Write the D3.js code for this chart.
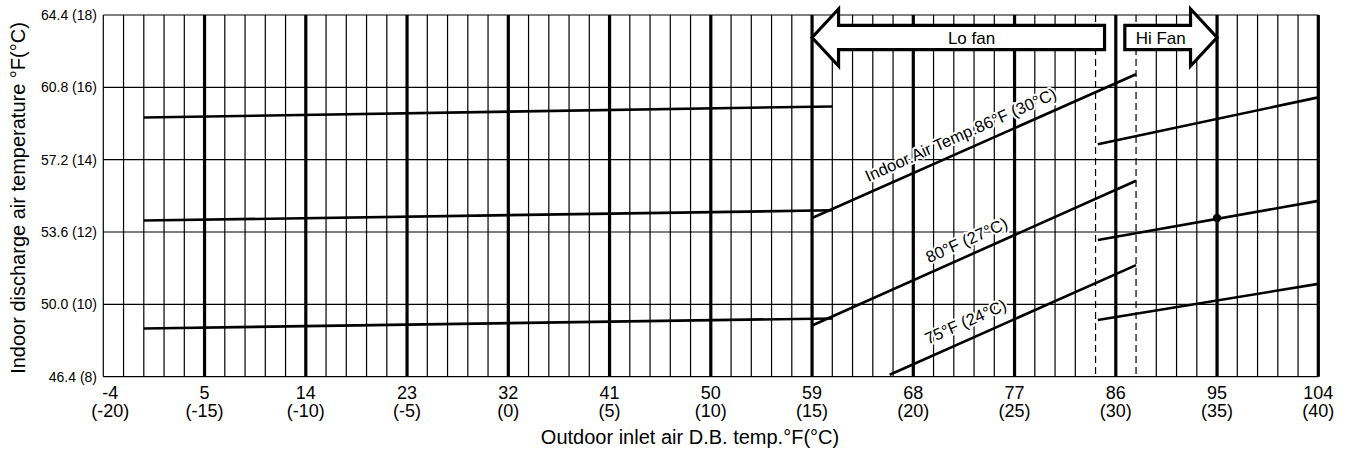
<!DOCTYPE html>
<html>
<head>
<meta charset="utf-8">
<script src="https://cdn.jsdelivr.net/npm/d3@7"></script>
<style>
  body { margin: 0; background: #fff; }
  svg text { font-family: "Liberation Sans", Arial, Helvetica, sans-serif; fill: #000; }
</style>
</head>
<body>
<script>
// tick labels
var xTicksF = [-4, 5, 14, 23, 32, 41, 50, 59, 68, 77, 86, 95, 104];
var xTicksC = [-20, -15, -10, -5, 0, 5, 10, 15, 20, 25, 30, 35, 40];
var yTicksF = ["46.4", "50.0", "53.6", "57.2", "60.8", "64.4"];
var yTicksC = [8, 10, 12, 14, 16, 18];

// Lo fan, low outdoor temp (flat part)
var flatX = [-0.4, 60.8];
var flatTop = [59.3, 59.85];
var flatMid = [54.17, 54.68];
var flatBot = [48.8, 49.3];

// Lo fan, rising part
var rise86X = [59, 87.8];
var rise86Y = [54.3, 61.45];
var rise80X = [59, 87.8];
var rise80Y = [48.95, 56.15];
var rise75X = [65.9, 87.8];
var rise75Y = [46.5, 51.95];

// Hi fan
var hiX = [84.4, 104];
var hiTop = [57.97, 60.3];
var hiMid = [53.2, 55.15];
var hiBot = [49.22, 51.02];
var ratedPoint = [95, 54.3];

// fan switch
var dashedF = [84.2, 87.8];
var loFanArrow = [59, 85];
var hiFanArrow = [86.8, 95];

var W = 1346, H = 449;
var margin = {top: 15, right: 27.7, bottom: 72.3, left: 103.3};

var x = d3.scaleLinear().domain([-4, 104]).range([margin.left, W - margin.right]);
var y = d3.scaleLinear().domain([46.4, 64.4]).range([H - margin.bottom, margin.top]);

var svg = d3.select("body").append("svg")
    .attr("width", W)
    .attr("height", H);

svg.append("rect").attr("width", W).attr("height", H).attr("fill", "#fff");

// vertical grid, one line per degC
var cols = d3.range(-20, 41);
svg.append("g").selectAll("line")
    .data(cols.filter(function(c) { return dashedF.indexOf(+(c * 1.8 + 32).toFixed(1)) < 0; }))
    .enter().append("line")
    .attr("x1", function(c) { return x(c * 1.8 + 32); })
    .attr("x2", function(c) { return x(c * 1.8 + 32); })
    .attr("y1", y(46.4))
    .attr("y2", y(64.4))
    .attr("stroke", "#000")
    .attr("stroke-width", function(c) { return (c % 5 == 0 && c != -20) ? 3.2 : 1.2; });

// horizontal grid
svg.append("g").selectAll("line")
    .data(yTicksF)
    .enter().append("line")
    .attr("x1", x(-4))
    .attr("x2", x(104))
    .attr("y1", function(d) { return y(+d); })
    .attr("y2", function(d) { return y(+d); })
    .attr("stroke", "#000")
    .attr("stroke-width", 1.2);

// dashed lines where the fan switches
svg.append("g").selectAll("line")
    .data(dashedF)
    .enter().append("line")
    .attr("x1", function(d) { return x(d); })
    .attr("x2", function(d) { return x(d); })
    .attr("y1", y(64.4))
    .attr("y2", y(46.4))
    .attr("stroke", "#000")
    .attr("stroke-width", 1.2)
    .attr("stroke-dasharray", "7,4");

// data lines
var series = [
  [flatX, flatTop], [flatX, flatMid], [flatX, flatBot],
  [rise86X, rise86Y], [rise80X, rise80Y], [rise75X, rise75Y],
  [hiX, hiTop], [hiX, hiMid], [hiX, hiBot]
];
var line = d3.line()
    .x(function(p) { return x(p[0]); })
    .y(function(p) { return y(p[1]); });

svg.append("g").selectAll("path")
    .data(series)
    .enter().append("path")
    .attr("d", function(s) { return line(d3.zip(s[0], s[1])); })
    .attr("fill", "none")
    .attr("stroke", "#000")
    .attr("stroke-width", 2.6);

svg.append("circle")
    .attr("cx", x(ratedPoint[0]))
    .attr("cy", y(ratedPoint[1]))
    .attr("r", 4.2)
    .attr("fill", "#000");

// labels along the rising lines
var labels = [
  {text: "Indoor.Air Temp.86°F (30°C)", xs: rise86X, ys: rise86Y, at: 64.0, lift: 11},
  {text: "80°F (27°C)", xs: rise80X, ys: rise80Y, at: 69.4, lift: 10},
  {text: "75°F (24°C)", xs: rise75X, ys: rise75Y, at: 69.3, lift: 13}
];
labels.forEach(function(l) {
  var k = (l.ys[1] - l.ys[0]) / (l.xs[1] - l.xs[0]);
  var v = l.ys[0] + (l.at - l.xs[0]) * k;
  var ang = Math.atan2(y(l.ys[1]) - y(l.ys[0]), x(l.xs[1]) - x(l.xs[0])) * 180 / Math.PI;
  svg.append("text")
      .attr("transform", "translate(" + x(l.at) + "," + (y(v) - l.lift) + ") rotate(" + ang + ")")
      .attr("font-size", 16.5)
      .attr("stroke", "#fff")
      .attr("stroke-width", 4)
      .attr("paint-order", "stroke")
      .style("stroke-linejoin", "round")
      .text(l.text);
});

// fan arrows
var ay = margin.top + 22.5, bodyH = 12.2, headH = 28.5, headL = 26.5;
function arrowPath(x0, x1, dir) {
  // dir -1 points left at x0, +1 points right at x1
  var p;
  if (dir < 0) {
    var hb = x0 + headL;
    p = [[x0, ay], [hb, ay - headH], [hb, ay - bodyH], [x1, ay - bodyH],
         [x1, ay + bodyH], [hb, ay + bodyH], [hb, ay + headH]];
  } else {
    var hb2 = x1 - headL;
    p = [[x0, ay - bodyH], [hb2, ay - bodyH], [hb2, ay - headH], [x1, ay],
         [hb2, ay + headH], [hb2, ay + bodyH], [x0, ay + bodyH]];
  }
  return "M" + p.join("L") + "Z";
}
svg.append("path")
    .attr("d", arrowPath(x(loFanArrow[0]), x(loFanArrow[1]), -1))
    .attr("fill", "#fff").attr("stroke", "#000").attr("stroke-width", 3.2);
svg.append("path")
    .attr("d", arrowPath(x(hiFanArrow[0]), x(hiFanArrow[1]), 1))
    .attr("fill", "#fff").attr("stroke", "#000").attr("stroke-width", 3.2);

svg.append("text")
    .attr("x", (x(loFanArrow[0]) + headL + x(loFanArrow[1])) / 2)
    .attr("y", ay + 6.5)
    .attr("text-anchor", "middle")
    .attr("font-size", 17)
    .text("Lo fan");
svg.append("text")
    .attr("x", (x(hiFanArrow[0]) + x(hiFanArrow[1]) - headL) / 2 + 3)
    .attr("y", ay + 6.5)
    .attr("text-anchor", "middle")
    .attr("font-size", 17)
    .text("Hi Fan");

// x tick labels
var xl = svg.append("g").selectAll("text")
    .data(xTicksF)
    .enter().append("text")
    .attr("text-anchor", "middle")
    .attr("font-size", 18)
    .attr("transform", function(d, i) { return "translate(" + (x(d) + (i == 0 ? 7 : 0)) + ",0)"; });
xl.append("tspan").attr("x", 0).attr("y", 399).text(function(d) { return d; });
xl.append("tspan").attr("x", 0).attr("y", 417).text(function(d, i) { return "(" + xTicksC[i] + ")"; });

// y tick labels
svg.append("g").selectAll("text")
    .data(yTicksF)
    .enter().append("text")
    .attr("x", 97)
    .attr("y", function(d) { return y(+d); })
    .attr("dy", "0.36em")
    .attr("text-anchor", "end")
    .attr("font-size", 14)
    .text(function(d, i) { return d + " (" + yTicksC[i] + ")"; });

// axis titles
svg.append("text")
    .attr("x", 690)
    .attr("y", 444)
    .attr("text-anchor", "middle")
    .attr("font-size", 20)
    .text("Outdoor inlet air D.B. temp.°F(°C)");

svg.append("text")
    .attr("transform", "translate(25,198) rotate(-90)")
    .attr("text-anchor", "middle")
    .attr("font-size", 20)
    .text("Indoor discharge air temperature °F(°C)");
</script>
</body>
</html>
